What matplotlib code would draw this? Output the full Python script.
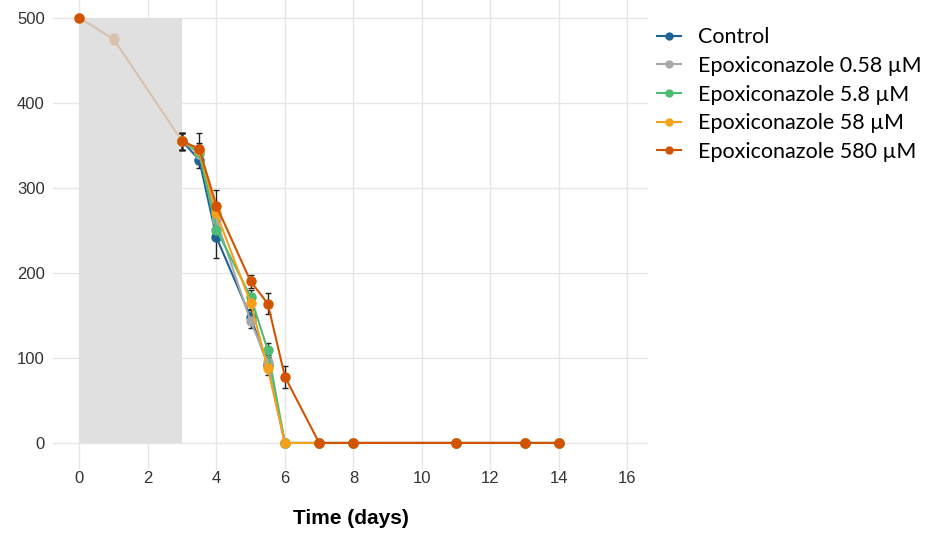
import matplotlib
matplotlib.use("Agg")
import matplotlib.pyplot as plt
from matplotlib.lines import Line2D
import numpy as np

# Shared pre-treatment period
pre_days = [0, 1, 3]
pre_vals = [500, 475, 355]
pre_err = [0, 6, 10]

days = [3, 3.5, 4, 5, 5.5, 6, 7, 8, 11, 13, 14]
series_names = ["Control", "Epoxiconazole 0.58 µM", "Epoxiconazole 5.8 µM",
                "Epoxiconazole 58 µM", "Epoxiconazole 580 µM"]
control = [355, 333, 242, 148, 92, 0, 0, 0, 0, 0, 0]
epo_058 = [355, 340, 262, 143, 95, 0, 0, 0, 0, 0, 0]
epo_58a = [355, 342, 251, 172, 109, 0, 0, 0, 0, 0, 0]
epo_58 = [355, 345, 270, 165, 88, 0, 0, 0, 0, 0, 0]
epo_580 = [355, 346, 279, 190, 164, 78, 0, 0, 0, 0, 0]
control_err = [10, 10, 25, 8, 8, 0, 0, 0, 0, 0, 0]
epo_058_err = [10, 8, 15, 8, 8, 0, 0, 0, 0, 0, 0]
epo_58a_err = [10, 8, 12, 8, 8, 0, 0, 0, 0, 0, 0]
epo_58_err = [10, 8, 12, 8, 8, 0, 0, 0, 0, 0, 0]
epo_580_err = [10, 18, 18, 8, 12, 13, 0, 0, 0, 0, 0]

values = [control, epo_058, epo_58a, epo_58, epo_580]
errors = [control_err, epo_058_err, epo_58a_err, epo_58_err, epo_580_err]
colors = ["#1f6396", "#a8a8a8", "#4dbd74", "#f4a11c", "#d35400"]

x_ticks = [0, 2, 4, 6, 8, 10, 12, 14, 16]
y_ticks = [0, 100, 200, 300, 400, 500]

plt.rcParams['font.family'] = ['Liberation Sans', 'DejaVu Sans']

fig = plt.figure(figsize=(9.34, 5.35), dpi=100)
ax = fig.add_axes([53/934, 1 - 470/535, (648-53)/934, 470/535])

ax.set_xlim(-0.77, 16.6)
ax.set_ylim(-31.8, 521)

# shaded pre-treatment period
ax.fill_between([0, 3], 0, 500, color="#e0e0e0", zorder=1, linewidth=0)

for sp in ax.spines.values():
    sp.set_visible(False)
ax.set_xticks(x_ticks)
ax.set_yticks(y_ticks)
ax.grid(True, color="#e6e6e6", linewidth=1.0, zorder=0)
ax.set_axisbelow(True)
ax.tick_params(length=0, labelsize=12, colors="#333333", pad=6)
ax.tick_params(axis='x', pad=1)

# pre-treatment shared line
ax.errorbar(pre_days, pre_vals, yerr=pre_err, color="#d8c2ad", marker="o",
            markersize=6.5, linewidth=1.5, ecolor="#c8b8a8", elinewidth=1,
            capsize=2, zorder=3)
ax.plot([pre_days[0]], [pre_vals[0]], marker="o", color=colors[-1],
        markersize=6.5, linestyle="none", zorder=5)

handles = []
for name, v, e, c in zip(series_names, values, errors, colors):
    ax.errorbar(days, v, yerr=e, color=c, marker="o", markersize=6.5,
                linewidth=1.5, ecolor="#222222", elinewidth=1, capsize=2,
                zorder=4)
    handles.append(Line2D([], [], color=c, marker="o", markersize=5,
                          linewidth=1.5, label=name))

ax.set_xlabel("Time (days)", fontsize=15, fontweight="bold", labelpad=16)

fig.legend(handles=handles, loc="upper left",
           bbox_to_anchor=(638/934, 1 - 8/535),
           frameon=False, handlelength=1.1, handletextpad=0.8,
           labelspacing=0.4, prop={'family': ['Lato', 'DejaVu Sans'], 'size': 15.5})

fig.savefig("out.png", dpi=100)
